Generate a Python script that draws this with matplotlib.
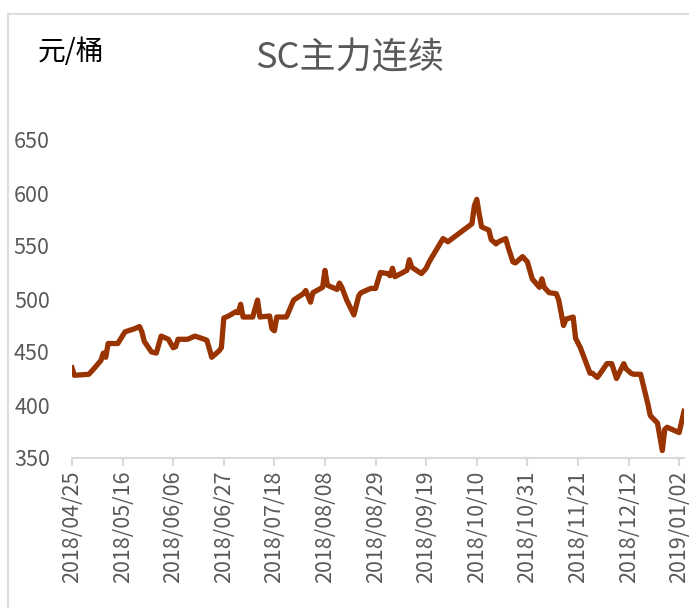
import pandas as pd
import matplotlib
matplotlib.use('Agg')
from matplotlib import pyplot as plt
from matplotlib.patches import Rectangle
import matplotlib.dates as mdates

plt.rcParams['font.family'] = ['Noto Sans CJK SC', 'DejaVu Sans']

dates = [
	'2018-04-25', '2018-04-26', '2018-05-02', '2018-05-04', '2018-05-07', '2018-05-08',
	'2018-05-09', '2018-05-10', '2018-05-14', '2018-05-17', '2018-05-21', '2018-05-23',
	'2018-05-24', '2018-05-25', '2018-05-28', '2018-05-30', '2018-06-01', '2018-06-04',
	'2018-06-06', '2018-06-07', '2018-06-08', '2018-06-12', '2018-06-15', '2018-06-19',
	'2018-06-20', '2018-06-22', '2018-06-25', '2018-06-26', '2018-06-27', '2018-06-29',
	'2018-07-02', '2018-07-03', '2018-07-04', '2018-07-05', '2018-07-09', '2018-07-11',
	'2018-07-12', '2018-07-16', '2018-07-17', '2018-07-18', '2018-07-19', '2018-07-23',
	'2018-07-26', '2018-07-30', '2018-07-31', '2018-08-02', '2018-08-03', '2018-08-07',
	'2018-08-08', '2018-08-09', '2018-08-13', '2018-08-14', '2018-08-15', '2018-08-17',
	'2018-08-20', '2018-08-22', '2018-08-23', '2018-08-27', '2018-08-29', '2018-08-31',
	'2018-09-03', '2018-09-04', '2018-09-05', '2018-09-06', '2018-09-11', '2018-09-12',
	'2018-09-13', '2018-09-17', '2018-09-19', '2018-09-20', '2018-09-21', '2018-09-26',
	'2018-09-28', '2018-10-08', '2018-10-09', '2018-10-10', '2018-10-11', '2018-10-12',
	'2018-10-15', '2018-10-16', '2018-10-18', '2018-10-19', '2018-10-22', '2018-10-23',
	'2018-10-25', '2018-10-26', '2018-10-29', '2018-10-31', '2018-11-02', '2018-11-05',
	'2018-11-06', '2018-11-07', '2018-11-09', '2018-11-12', '2018-11-13', '2018-11-15',
	'2018-11-16', '2018-11-19', '2018-11-20', '2018-11-22', '2018-11-26', '2018-11-27',
	'2018-11-29', '2018-11-30', '2018-12-03', '2018-12-05', '2018-12-07', '2018-12-10',
	'2018-12-11', '2018-12-13', '2018-12-14', '2018-12-17', '2018-12-20', '2018-12-21',
	'2018-12-24', '2018-12-26', '2018-12-27', '2018-12-28', '2019-01-02', '2019-01-04',
]
prices = [
	435, 428, 429, 434, 442, 449,
	445, 458, 458, 469, 472, 474,
	469, 460, 450, 449, 465, 462,
	454, 455, 462, 462, 465, 462,
	461, 445, 451, 454, 482, 484,
	488, 487, 495, 483, 483, 499,
	483, 484, 472, 470, 483, 483,
	499, 505, 508, 497, 506, 511,
	527, 513, 509, 515, 511, 499,
	485, 503, 506, 510, 510, 525,
	524, 522, 529, 521, 527, 537,
	530, 524, 529, 534, 538, 557,
	554, 571, 588, 594, 580, 568,
	565, 556, 552, 554, 557, 549,
	535, 534, 540, 535, 519, 511,
	519, 511, 506, 505, 499, 475,
	481, 483, 463, 454, 430, 430,
	426, 429, 439, 439, 425, 439,
	434, 430, 429, 429, 401, 390,
	383, 357, 377, 379, 374, 394,
]
yticks = [350, 400, 450, 500, 550, 600, 650]

x = pd.to_datetime(dates)
xticks = pd.date_range('2018-04-25', periods=13, freq='21D')

fig = plt.figure(figsize=(6.89, 6.08), dpi=100)
ax = fig.add_axes([72/689, 150/608, 612/689, 318/608])

ax.plot(x, prices, color='#993300', lw=3.8, solid_joinstyle='round')

ax.set_ylim(350, 650)
ax.set_yticks(yticks)
ax.set_xlim(pd.Timestamp('2018-04-25'), pd.Timestamp('2019-01-04'))
ax.set_xticks(xticks)
ax.xaxis.set_major_formatter(mdates.DateFormatter('%Y/%m/%d'))

for s in ['top', 'right', 'left']:
	ax.spines[s].set_visible(False)
ax.spines['bottom'].set_color('#D9D9D9')
ax.spines['bottom'].set_linewidth(1.5)
ax.tick_params(axis='x', colors='#D9D9D9', length=6, width=1.5, labelcolor='#595959',
	labelsize=15.5, labelrotation=90, pad=3)
ax.tick_params(axis='y', length=0, labelcolor='#595959', labelsize=15.5, pad=16)

fig.text(38/689, 1-52/608, '元/桶', fontsize=20, color='black', va='center', ha='left')
fig.text(350/689, 1-58/608, 'SC主力连续', fontsize=26, color='#595959', va='center', ha='center')

fig.patches.append(Rectangle((8/689, -0.1), 1.2, 1.1-14/608, transform=fig.transFigure,
	fill=False, ec='#DDDDDD', lw=1.5))

fig.savefig('out.png', dpi=100)
